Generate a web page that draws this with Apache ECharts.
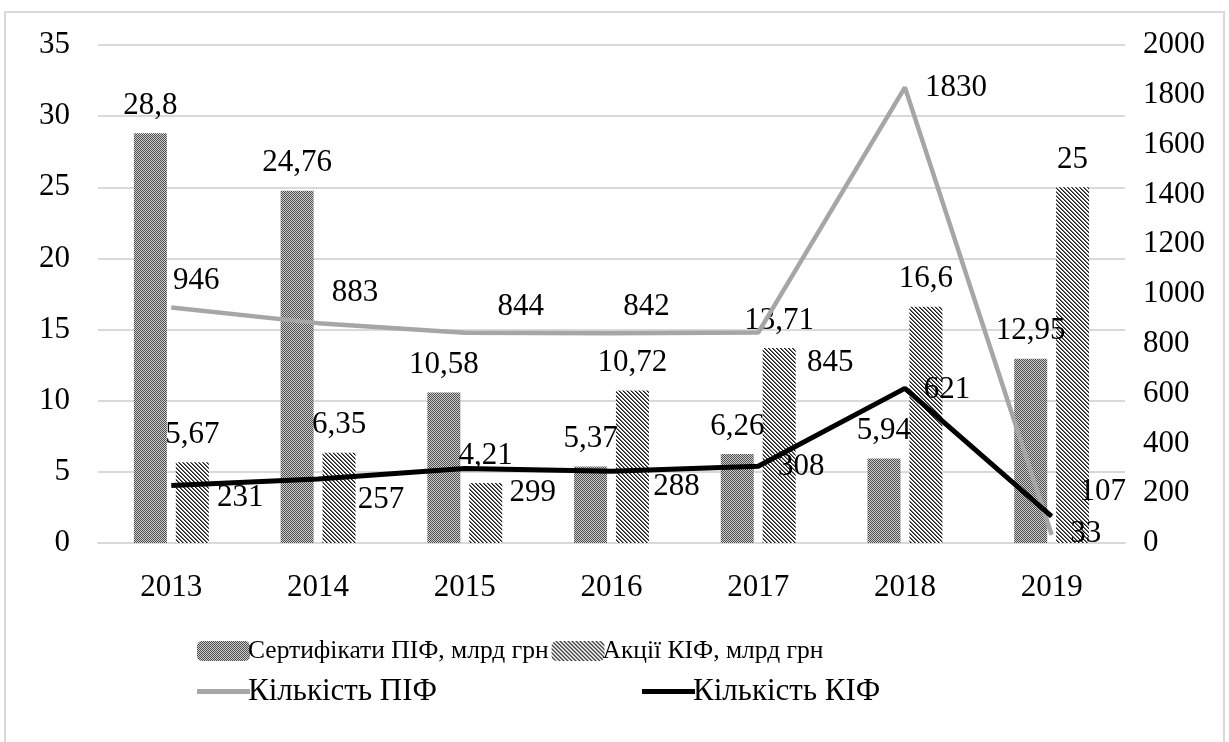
<!DOCTYPE html>
<html>
<head>
<meta charset="utf-8">
<script src="https://cdn.jsdelivr.net/npm/echarts@6/dist/echarts.min.js"></script>
<style>
    html, body { margin: 0; padding: 0; background: #fff; }
    #main { width: 1229px; height: 742px; }
</style>
</head>
<body>
<div id="main"></div>
<script>
    // дані з рисунка
    const years = ['2013', '2014', '2015', '2016', '2017', '2018', '2019'];
    const certPif = [28.8, 24.76, 10.58, 5.37, 6.26, 5.94, 12.95];
    const sharesKif = [5.67, 6.35, 4.21, 10.72, 13.71, 16.6, 25];
    const countPif = [946, 883, 844, 842, 845, 1830, 33];
    const countKif = [231, 257, 299, 288, 308, 621, 107];

    // зсуви підписів ліній (як їх розставили вручну в Excel)
    const pifLabelShift = [[25, -27], [37, -30], [56, -26], [35, -26], [72, 30], [51, 1], [34, -1]];
    const kifLabelShift = [[69, 12], [63, 21], [68, 24], [65, 16], [43, 1], [42, 1], [51, -24]];

    const font = '"Liberation Serif", "Times New Roman", "DejaVu Serif", serif';

    // візерунок "сітка" для сертифікатів
    const makeDots = () => {
        const c = document.createElement('canvas');
        c.width = 2; c.height = 2;
        const ctx = c.getContext('2d');
        ctx.fillStyle = '#cfcfcf';
        ctx.fillRect(0, 0, 2, 2);
        ctx.fillStyle = '#4d4d4d';
        ctx.fillRect(0, 0, 1, 1);
        ctx.fillRect(1, 1, 1, 1);
        return c;
    };

    // візерунок "косі лінії" для акцій
    const makeHatch = () => {
        const c = document.createElement('canvas');
        c.width = 4; c.height = 4;
        const ctx = c.getContext('2d');
        const shades = ['#1a1a1a', '#707070', '#fff', '#fff'];
        for (let y = 0; y < 4; y++) {
            for (let x = 0; x < 4; x++) {
                ctx.fillStyle = shades[(((x - y) % 4) + 4) % 4];
                ctx.fillRect(x, y, 1, 1);
            }
        }
        return c;
    };

    const dotsFill = { image: makeDots(), repeat: 'repeat' };
    const hatchFill = { image: makeHatch(), repeat: 'repeat' };

    const comma = (p) => String(p.value).replace('.', ',');

    const barLabel = {
        show: true,
        position: 'top',
        distance: 12,
        fontFamily: font,
        fontSize: 31,
        color: '#000',
        formatter: comma
    };

    const lineData = (values, shifts) => values.map((v, i) => ({
        value: v,
        label: { offset: shifts[i] }
    }));

    const lineLabel = {
        show: true,
        position: 'inside',
        align: 'center',
        verticalAlign: 'middle',
        fontFamily: font,
        fontSize: 31,
        color: '#000'
    };

    const lineLegend = {
        icon: 'rect',
        itemWidth: 53,
        itemHeight: 5,
        itemGap: 0,
        textStyle: { fontFamily: font, fontSize: 31, color: '#000', padding: [0, 0, 0, -7] }
    };

    const myChart = echarts.init(document.getElementById('main'));

    const option = {
        animation: false,
        backgroundColor: '#fff',
        textStyle: { fontFamily: font },
        graphic: [{
            type: 'rect',
            shape: { x: 5, y: 12, width: 1219, height: 740 },
            style: { fill: 'none', stroke: '#d9d9d9', lineWidth: 2 },
            silent: true
        }],
        legend: [
            {
                left: 192,
                top: 633,
                itemWidth: 53,
                itemHeight: 20,
                itemGap: 3,
                textStyle: { fontFamily: font, fontSize: 25.5, color: '#000', padding: [0, 0, 0, -7] },
                data: ['Сертифікати ПІФ, млрд грн', 'Акції КІФ, млрд грн']
            },
            Object.assign({}, lineLegend, { left: 192, top: 671, data: ['Кількість ПІФ'] }),
            Object.assign({}, lineLegend, { left: 637, top: 671, data: ['Кількість КІФ'] })
        ],
        grid: {
            left: 98,
            right: 104,
            top: 45,
            bottom: 199
        },
        xAxis: {
            type: 'category',
            data: years,
            axisLine: { lineStyle: { color: '#d9d9d9', width: 2 } },
            axisTick: { show: false },
            axisLabel: { fontFamily: font, fontSize: 31, color: '#000', margin: 29 }
        },
        yAxis: [
            {
                type: 'value',
                min: 0,
                max: 35,
                interval: 5,
                axisLine: { show: false },
                axisTick: { show: false },
                splitLine: { lineStyle: { color: '#d9d9d9', width: 2 } },
                axisLabel: { fontFamily: font, fontSize: 31, color: '#000', margin: 28 }
            },
            {
                type: 'value',
                min: 0,
                max: 2000,
                interval: 200,
                axisLine: { show: false },
                axisTick: { show: false },
                splitLine: { show: false },
                axisLabel: {
                    fontFamily: font, fontSize: 31, color: '#000', margin: 18,
                    formatter: (v) => String(v)
                }
            }
        ],
        series: [
            {
                name: 'Сертифікати ПІФ, млрд грн',
                type: 'bar',
                data: certPif,
                barWidth: 33,
                barGap: '27%',
                itemStyle: { color: dotsFill },
                label: barLabel
            },
            {
                name: 'Акції КІФ, млрд грн',
                type: 'bar',
                data: sharesKif,
                barWidth: 33,
                barGap: '27%',
                itemStyle: { color: hatchFill },
                label: barLabel
            },
            {
                name: 'Кількість ПІФ',
                type: 'line',
                yAxisIndex: 1,
                data: lineData(countPif, pifLabelShift),
                symbol: 'circle',
                symbolSize: 1,
                lineStyle: { color: '#a6a6a6', width: 4.5 },
                itemStyle: { color: '#a6a6a6' },
                label: lineLabel,
                z: 3
            },
            {
                name: 'Кількість КІФ',
                type: 'line',
                yAxisIndex: 1,
                data: lineData(countKif, kifLabelShift),
                symbol: 'circle',
                symbolSize: 1,
                lineStyle: { color: '#000', width: 5 },
                itemStyle: { color: '#000' },
                label: lineLabel,
                z: 4
            }
        ]
    };

    myChart.setOption(option);
</script>
</body>
</html>
